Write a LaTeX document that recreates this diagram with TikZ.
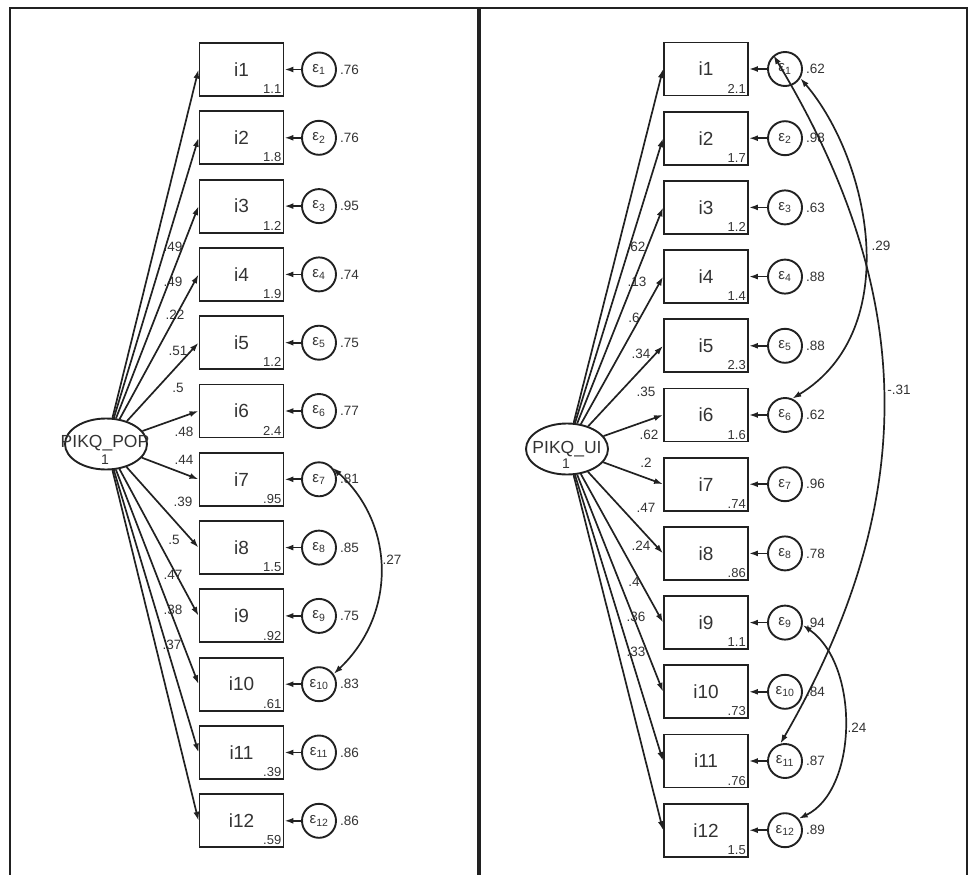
\documentclass[tikz,border=0pt]{standalone}
\usepackage{fontspec}
\setmainfont{Liberation Sans}
\usetikzlibrary{shapes.geometric,arrows.meta}
\definecolor{ln}{gray}{0.13}
\definecolor{tx}{gray}{0.2}
\tikzset{
  obs/.style={draw=ln, rectangle, line width=1.9pt, minimum width=84pt, minimum height=53pt, inner sep=0pt, text=tx, font=\fontsize{19}{19}\selectfont},
  err/.style={draw=ln, circle, line width=1.9pt, minimum size=34pt, inner sep=0pt, text=tx, font=\fontsize{15}{15}\selectfont},
  lat/.style={draw=ln, ellipse, line width=1.9pt, minimum width=82pt, minimum height=51pt, inner sep=0pt},
  lattxt/.style={text=tx, inner sep=0pt, font=\fontsize{17.5}{17.5}\selectfont},
  latsub/.style={text=tx, inner sep=0pt, font=\fontsize{14}{14}\selectfont},
  num/.style={text=tx, inner sep=0pt, font=\fontsize{13.5}{13.5}\selectfont},
  intc/.style={text=tx, inner sep=0pt, anchor=south east, font=\fontsize{13}{13}\selectfont},
  arr/.style={draw=ln, line width=1.7pt, -{Latex[length=9pt,width=6pt]}},
  cov/.style={draw=ln, line width=1.7pt, {Latex[length=9pt,width=6pt]}-{Latex[length=9pt,width=6pt]}},
  frm/.style={draw=ln, line width=1.8pt}
}
\begin{document}
\begin{tikzpicture}[x=1pt,y=-1pt]
\useasboundingbox (0,0) rectangle (969,875);
% frame
\draw[frm] (10,875) -- (10,8) -- (967,8) -- (967,875);
\draw[draw=ln, line width=3.8pt] (479,8) -- (479,875);

% ---------- left panel ----------
\node[lat] (latL) at (106,444) {};
\node[lattxt] (latLt) at (105,443) {PIKQ\_POP};
\node[latsub] (latLs) at (105,460) {1};
\foreach \k/\ic/\var/\ld/\lx/\ly in {
  1/1.1/.76/.49/173/247,
  2/1.8/.76/.49/173/282,
  3/1.2/.95/.22/175/315,
  4/1.9/.74/.51/178/351,
  5/1.2/.75/.5/178/388,
  6/2.4/.77/.48/184/432,
  7/.95/.81/.44/184/460,
  8/1.5/.85/.39/183/502,
  9/.92/.75/.5/174/540,
  10/.61/.83/.47/173/575,
  11/.39/.86/.38/173/610,
  12/.59/.86/.37/172/645}{
  \pgfmathsetmacro\yy{69.5+68.3*(\k-1)}
  \node[obs] (bL\k) at (241.5,\yy) {i\k};
  \node[intc] (icL\k) at ([xshift=-3pt,yshift=3pt]bL\k.south east) {\ic};
  \node[err] (eL\k) at (319,\yy) {ε\textsubscript{\k}};
  \node[num, anchor=west] (vL\k) at ([xshift=3pt]eL\k.east) {\var};
  \node[num] (ldL\k) at (\lx,\ly) {\ld};
  \draw[arr] (latL) -- (bL\k.west);
  \draw[arr] (eL\k) -- (bL\k.east);
}
\draw[cov] (eL7.40) .. controls (396,525) and (396,615) .. (eL10.35);
\node[num] (cL1) at (392,560) {.27};

% ---------- right panel ----------
\node[lat] (latR) at (567,449) {};
\node[lattxt] (latRt) at (567,449) {PIKQ\_UI};
\node[latsub] (latRs) at (566,464) {1};
\foreach \k/\ic/\var/\ld/\lx/\ly in {
  1/2.1/.62/.62/636/247,
  2/1.7/.98/.13/637/282,
  3/1.2/.63/.6/634/318,
  4/1.4/.88/.34/641/354,
  5/2.3/.88/.35/646/392,
  6/1.6/.62/.62/649/435,
  7/.74/.96/.2/646/463,
  8/.86/.78/.47/646/508,
  9/1.1/.94/.24/641/546,
  10/.73/.84/.4/634/582,
  11/.76/.87/.36/636/617,
  12/1.5/.89/.33/636/652}{
  \pgfmathsetmacro\yy{69+69.2*(\k-1)}
  \node[obs] (bR\k) at (706,\yy) {i\k};
  \node[intc] (icR\k) at ([xshift=-3pt,yshift=3pt]bR\k.south east) {\ic};
  \node[err] (eR\k) at (785,\yy) {ε\textsubscript{\k}};
  \node[num, anchor=west] (vR\k) at ([xshift=3pt]eR\k.east) {\var};
  \node[num] (ldR\k) at (\lx,\ly) {\ld};
  \draw[arr] (latR) -- (bR\k.west);
  \draw[arr] (eR\k) -- (bR\k.east);
}
\draw[cov] (eR1.-31) .. controls (870,160) and (905,330) .. (eR6.66);
\draw[cov] (eR1.130) .. controls (919,297) and (919,503) .. (eR11.105);
\draw[cov] (eR9.-8) .. controls (860,665) and (858,790) .. (eR12.40);
\node[num] (cR1) at (881,246) {.29};
\node[num] (cR2) at (899,390) {-.31};
\node[num] (cR3) at (857,728) {.24};
\end{tikzpicture}
\end{document}
